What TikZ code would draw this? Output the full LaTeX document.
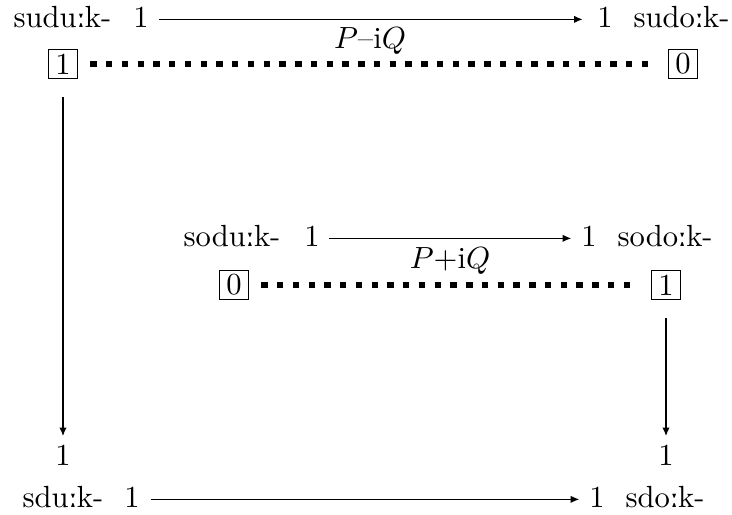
\documentclass[tikz,border=0pt]{standalone}
\usepackage{fontspec}
\newfontfamily\ipafont{DejaVu Serif}[Scale=1.0]
\usetikzlibrary{arrows.meta}
\newcommand\lenmark{{\ipafont\kern-0.3pt ː\kern-0.4pt}}
\tikzset{
  lbl/.style={inner sep=0pt, font=\fontsize{10pt}{12pt}\selectfont},
  boxnode/.style={draw, line width=0.4pt, inner sep=0pt, minimum width=9.6pt, minimum height=9.6pt, font=\fontsize{10pt}{12pt}\selectfont},
  arr/.style={line width=0.4pt, -{Latex[length=2.8pt,width=2.4pt]}},
  sqline/.style={line width=2pt, dash pattern=on 2.1pt off 3.05pt}
}
\begin{document}
\begin{tikzpicture}[x=0.3268pt, y=-0.3268pt]
\useasboundingbox (0,0) rectangle (732,514);
% top row
\node[lbl, anchor=base west] (sudu) at (13,27) {sudu\lenmark k-};
\node[lbl, anchor=base] (ta) at (141,27) {1};
\node[lbl, anchor=base] (tb) at (605,27) {1};
\node[lbl, anchor=base west] (sudo) at (633,27) {sudo\lenmark k-};
\draw[arr, shorten <=3.1pt, shorten >=4.6pt] ([yshift=2.5pt]ta.base east) -- ([yshift=2.5pt]tb.base west);
\node[lbl, anchor=base] (pq1) at (370,48) {$P$–i$Q$};
\node[boxnode] (b1) at (63,64) {1};
\node[boxnode] (b0) at (683,64) {0};
\draw[sqline, shorten <=3.9pt, shorten >=4.2pt] (b1.east) -- (b0.west);
% middle row
\node[lbl, anchor=base west] (sodu) at (183,246) {sodu\lenmark k-};
\node[lbl, anchor=base] (ma) at (312,246) {1};
\node[lbl, anchor=base] (mb) at (589,246) {1};
\node[lbl, anchor=base west] (sodo) at (617,246) {sodo\lenmark k-};
\draw[arr, shorten <=2.7pt, shorten >=3.1pt] ([yshift=2.5pt]ma.base east) -- ([yshift=2.5pt]mb.base west);
\node[lbl, anchor=base] (pq2) at (450,268) {$P{+}\mathrm{i}Q$};
\node[boxnode] (m0) at (234,285) {0};
\node[boxnode] (m1) at (666,285) {1};
\draw[sqline, shorten <=3.9pt, shorten >=4.2pt] (m0.east) -- (m1.west);
% verticals
\node[lbl, anchor=base] (la) at (63,465) {1};
\node[lbl, anchor=base] (lb) at (666,465) {1};
\draw[arr, shorten <=5.8pt, shorten >=2.6pt] (b1.south) -- (la.north);
\draw[arr, shorten <=5.8pt, shorten >=2.6pt] (m1.south) -- (lb.north);
% bottom row
\node[lbl, anchor=base west] (sdu) at (22,507) {sdu\lenmark k-};
\node[lbl, anchor=base] (ba) at (132,507) {1};
\node[lbl, anchor=base] (bb) at (597,507) {1};
\node[lbl, anchor=base west] (sdo) at (625,507) {sdo\lenmark k-};
\draw[arr, shorten <=3.4pt, shorten >=3.1pt] ([yshift=2.5pt]ba.base east) -- ([yshift=2.5pt]bb.base west);
\end{tikzpicture}
\end{document}
